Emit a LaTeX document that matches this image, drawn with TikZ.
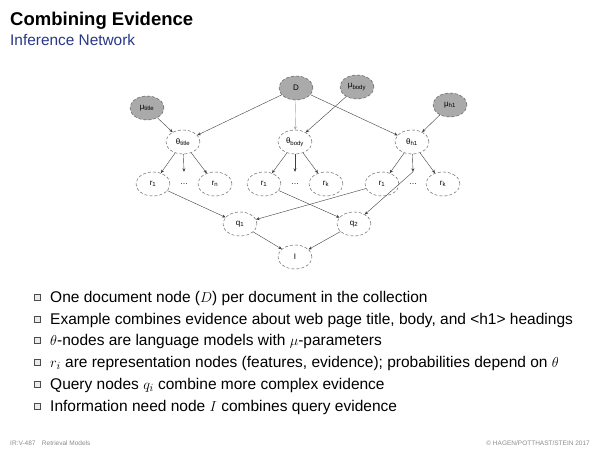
\documentclass[tikz,border=0pt]{standalone}
\usepackage{fontspec}
\setmainfont{Liberation Sans}
\usetikzlibrary{arrows.meta,shapes.geometric}

\definecolor{subblue}{RGB}{40,55,135}
\definecolor{nodegray}{RGB}{170,170,170}

\tikzset{
	netnode/.style={ellipse,draw=black!70,densely dashed,line width=0.4pt,minimum width=34pt,minimum height=24pt,inner sep=0pt,font=\fontsize{8}{9}\selectfont},
	obsnode/.style={netnode,fill=nodegray},
	edge/.style={draw=black!75,line width=0.4pt,-{Stealth[length=3.5pt,width=3pt]}},
	bullet/.style={draw=black!70,fill=black!8,line width=0.5pt,minimum size=5.5pt,inner sep=0pt},
	item/.style={anchor=base west,inner sep=0pt,font=\fontsize{15.5}{18}\selectfont}
}

\begin{document}
\begin{tikzpicture}[x=1pt,y=-1pt]
				\useasboundingbox (0,0) rectangle (600,450);
				\fill[white] (0,0) rectangle (600,450);
				% heading
				\node[anchor=base west,inner sep=0pt,font=\fontsize{18.5}{20}\bfseries] (title) at (10,25) {Combining Evidence};
				\node[anchor=base west,inner sep=0pt,text=subblue,font=\fontsize{15.4}{18}\selectfont] (subtitle) at (10,45) {Inference Network};
				% document and parameter nodes
				\node[obsnode] (D) at (296,88) {D};
				\node[obsnode] (mb) at (357,87) {μ\textsubscript{body}};
				\node[obsnode] (mt) at (147,108) {μ\textsubscript{title}};
				\node[obsnode] (mh) at (450,105) {μ\textsubscript{h1}};
				% language models
				\node[netnode] (tt) at (183,142) {θ\textsubscript{title}};
				\draw[edge] (D) -- (tt);
				\draw[edge] (mt) -- (tt);
				\node[netnode] (tb) at (295,142) {θ\textsubscript{body}};
				\draw[edge,draw=black!35] (D) -- (tb);
				\draw[edge] (mb) -- (tb);
				\node[netnode] (th) at (412,142) {θ\textsubscript{h1}};
				\draw[edge] (D) -- (th);
				\draw[edge] (mh) -- (th);
				% representation nodes
				\node[netnode] (r11) at (153,184) {r\textsubscript{1}};
				\node[netnode,draw=none,minimum width=10pt] (d1) at (184,184) {\dots};
				\node[netnode] (r1n) at (215,184) {r\textsubscript{n}};
				\draw[edge] (tt) -- (r11);
				\draw[edge] (tt) -- (d1.north);
				\draw[edge] (tt) -- (r1n);
				\node[netnode] (r21) at (264,184) {r\textsubscript{1}};
				\node[netnode,draw=none,minimum width=10pt] (d2) at (295,184) {\dots};
				\node[netnode] (r2n) at (326,184) {r\textsubscript{k}};
				\draw[edge] (tb) -- (r21);
				\draw[edge] (tb) -- (d2.north);
				\draw[edge] (tb) -- (r2n);
				\node[netnode] (r31) at (382,184) {r\textsubscript{1}};
				\node[netnode,draw=none,minimum width=10pt] (d3) at (413,184) {\dots};
				\node[netnode] (r3n) at (443,184) {r\textsubscript{k}};
				\draw[edge] (th) -- (r31);
				\draw[edge] (th) -- (d3.north);
				\draw[edge] (th) -- (r3n);
				% query nodes
				\node[netnode] (q1) at (240,224) {q\textsubscript{1}};
				\draw[edge] (r11) -- (q1);
				\draw[edge] (r31) -- (q1);
				\node[netnode] (q2) at (354,224) {q\textsubscript{2}};
				\draw[edge] (r21) -- (q2);
				\draw[edge] (d3.north) -- (q2);
				% information need
				\node[netnode] (I) at (295,257) {I};
				\draw[edge] (q1) -- (I);
				\draw[edge] (q2) -- (I);
				% bullet list
				\foreach \y in {297,319,340,362,384,406}
					\node[bullet] at (37,\y) {};
				\node[item] (l1) at (50,302) {One document node ($D$) per document in the collection};
				\node[item] (l2) at (50,324) {Example combines evidence about web page title, body, and <h1> headings};
				\node[item] (l3) at (50,345) {$\theta$-nodes are language models with $\mu$-parameters};
				\node[item] (l4) at (50,367) {$r_i$ are representation nodes (features, evidence); probabilities depend on $\theta$};
				\node[item] (l5) at (50,389) {Query nodes $q_i$ combine more complex evidence};
				\node[item] (l6) at (50,411) {Information need node $I$ combines query evidence};
				% footer
				\node[anchor=base west,inner sep=0pt,text=black!45,font=\fontsize{6.5}{8}\selectfont] (foot) at (10,445) {IR:V-487\quad Retrieval Models};
				\node[anchor=base east,inner sep=0pt,text=black!45,font=\fontsize{6.5}{8}\selectfont] (copy) at (590,445) {© HAGEN/POTTHAST/STEIN 2017};
			\end{tikzpicture}
\end{document}
